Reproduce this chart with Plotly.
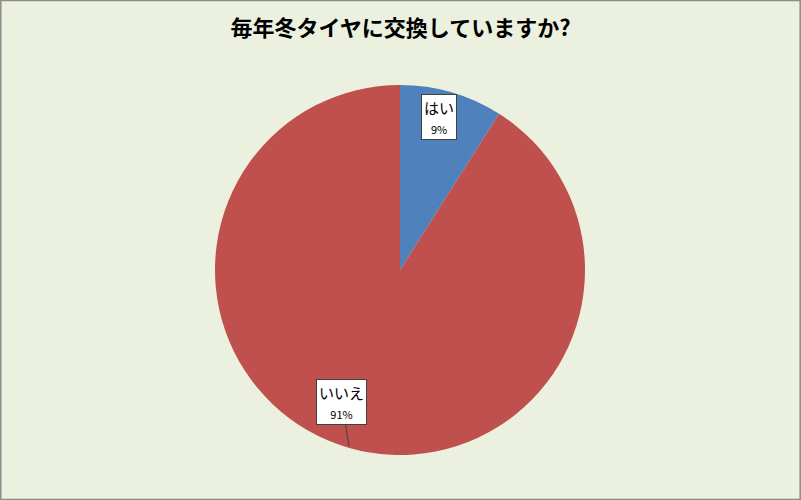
import math
import plotly.graph_objects as go

categories = ["はい", "いいえ"]
values = [9, 91]
colors = ["#4F81BD", "#C0504D"]
title_text = "毎年冬タイヤに交換していますか?"

W, H = 801, 500
cx, cy, R = 400, 270, 185  # pixel layout of the pie

fig = go.Figure(go.Pie(
    labels=categories, values=values, sort=False, direction="clockwise",
    rotation=0, textinfo="none", hoverinfo="label+percent",
    marker=dict(colors=colors, line=dict(width=0)),
    domain=dict(x=[(cx - R) / W, (cx + R) / W], y=[1 - (cy + R) / H, 1 - (cy - R) / H]),
    showlegend=False,
))

# label callouts attached at the middle of each slice's outer edge
total = sum(values)
offsets = [(-12, 23), (-7, -44)]
annotations = []
cum = 0
for lab, v, (ox, oy) in zip(categories, values, offsets):
    mid = (cum + v / 2) / total * 2 * math.pi
    cum += v
    px = cx + (R - 2) * math.sin(mid)
    py = cy - (R - 2) * math.cos(mid)
    pct = round(v / total * 100)
    annotations.append(dict(
        x=px / W, y=1 - py / H, xref="paper", yref="paper",
        text=f"{lab}<br><span style='font-size:11px'>{pct}%</span>",
        showarrow=True, arrowhead=0, arrowwidth=1, arrowcolor="#404040",
        ax=ox, ay=oy, bgcolor="white", bordercolor="#404040", borderwidth=1,
        borderpad=2, font=dict(family="Noto Sans CJK JP", size=15, color="black"),
    ))

fig.update_layout(
    width=W, height=H,
    margin=dict(l=0, r=0, t=0, b=0),
    paper_bgcolor="#EBF1DE", plot_bgcolor="#EBF1DE",
    title=dict(text=f"<b>{title_text}</b>", x=0.5, xanchor="center", y=1 - 28 / H, yanchor="middle",
               font=dict(family="Noto Sans CJK JP", size=22, color="black")),
    annotations=annotations,
    shapes=[dict(type="rect", xref="paper", yref="paper", x0=0.001, y0=0.001, x1=0.999, y1=0.999,
                 line=dict(color="#8C8C8C", width=1.5))],
)

fig.write_html("out.html", config={"displayModeBar": False},
               post_script="document.body.style.margin='0';document.body.style.overflow='hidden';")
